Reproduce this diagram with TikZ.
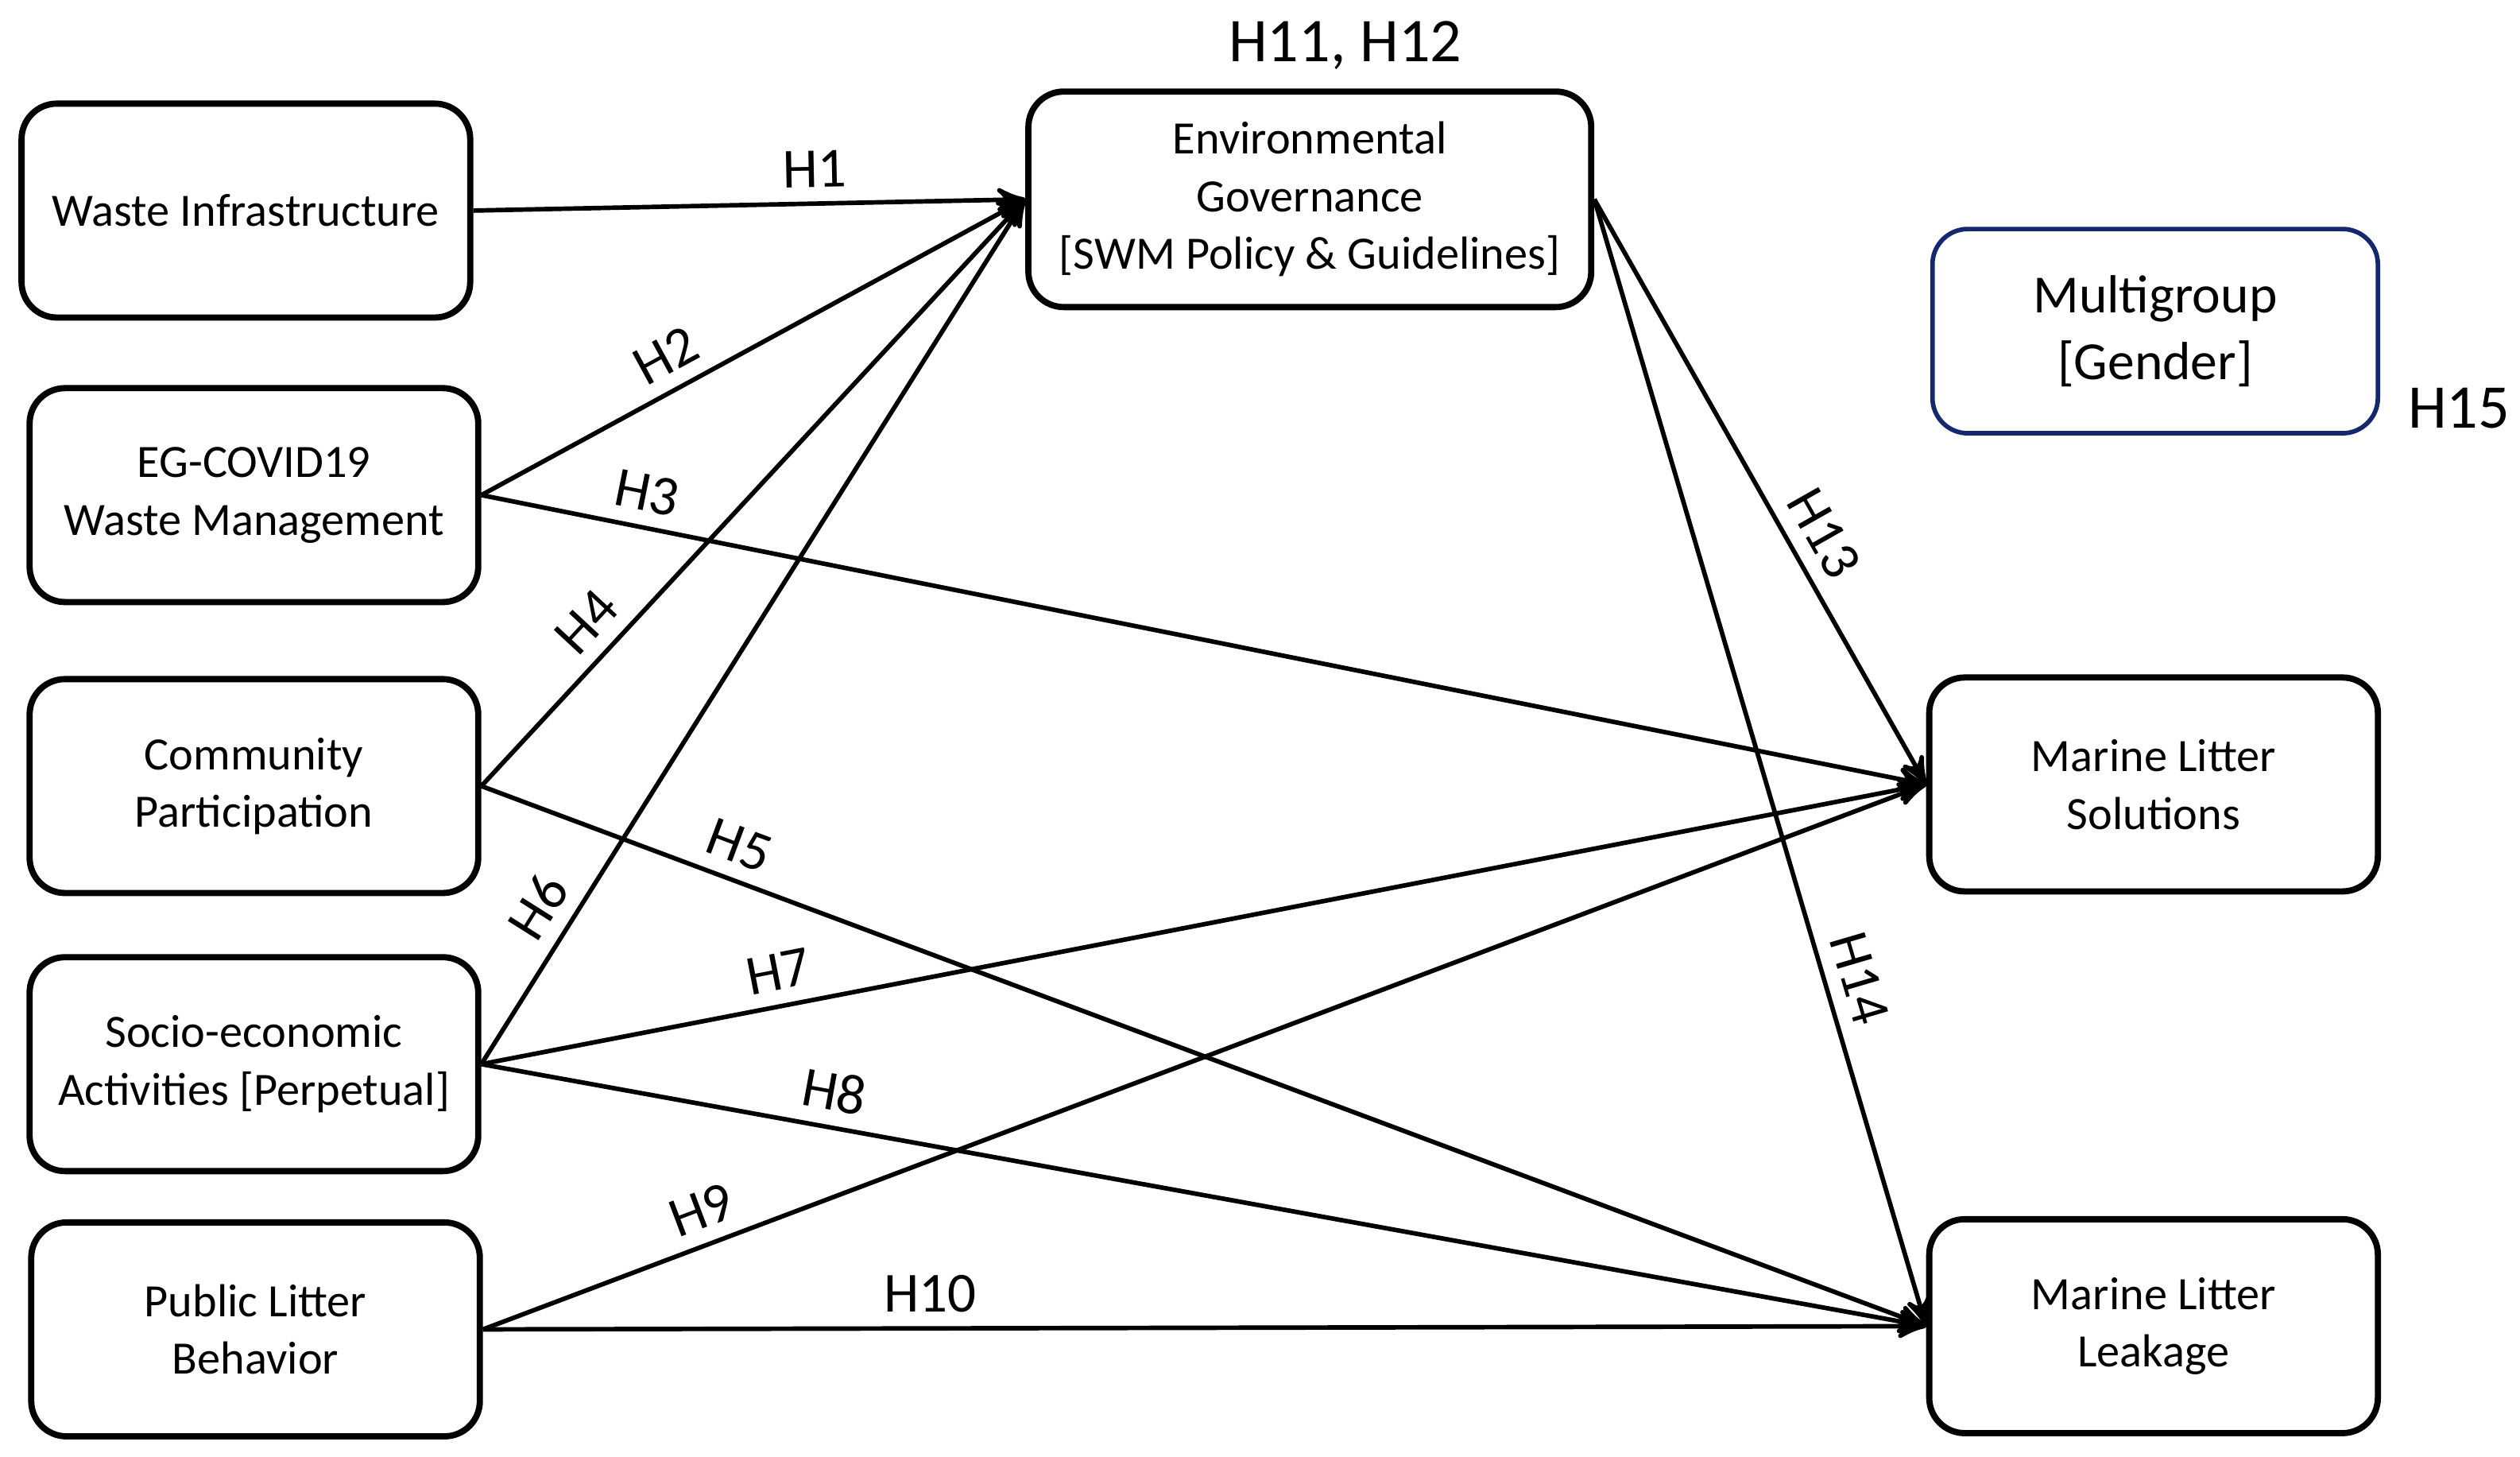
\documentclass[tikz,border=0pt]{standalone}
\usepackage{fontspec}
\setmainfont{Carlito}
\usetikzlibrary{arrows}
\tikzset{
    %Define standard arrow tip
    >=stealth',
    % Define box style
    box/.style={
           draw,
           line width=1.1pt,
           rounded corners=2.2mm,
           minimum width=2.79cm,
           minimum height=1.33cm,
           align=center,
           font=\fontsize{8.2}{10.2}\selectfont,
           },
    % Define arrow style
    pil/.style={
           ->,
           line width=0.8pt,
           },
    hyp/.style={
           sloped,
           above,
           inner sep=2.5pt,
           font=\fontsize{10}{12}\selectfont,
           }
}
\begin{document}
\begin{tikzpicture}[x=0.01cm,y=-0.01cm]
  	\useasboundingbox (0,0) rectangle (1568,906);
  	\node[box] (wi) at (153,131) {Waste Infrastructure};
  	\node[box] (cov) at (158,308) {EG-COVID19\\Waste Management};
  	\node[box] (com) at (158,489) {Community\\Participation};
  	\node[box] (soc) at (158,662) {Socio-economic\\Activities [Perpetual]};
  	\node[box] (pub) at (159,827) {Public Litter\\Behavior};
  	\node[box, minimum width=3.5cm, minimum height=1.34cm] (eg) at (815,124) {Environmental\\Governance\\{}[SWM Policy \& Guidelines]};
  	\node[box, draw={rgb,255:red,20;green,40;blue,110}, line width=0.8pt, minimum width=2.77cm, minimum height=1.27cm, font=\fontsize{9.5}{11.8}\selectfont] (mg) at (1341,206) {Multigroup\\{}[Gender]};
  	\node[box] (mls) at (1340,488) {Marine Litter\\Solutions};
  	\node[box] (mll) at (1340,825) {Marine Litter\\Leakage};
  	\node[font=\fontsize{11}{13}\selectfont] (h11) at (837,28) {H11, H12};
  	\node[font=\fontsize{11}{13}\selectfont] (h15) at (1530,254) {H15};
%  	paths into the governance box
  	\draw [pil] (wi.east) -- node [hyp, pos=0.62] {H1} (eg.west);
  	\draw [pil] (cov.east) -- node [hyp, pos=0.37] {H2} (eg.west);
  	\draw [pil] (com.east) -- node [hyp, pos=0.24] {H4} (eg.west);
  	\draw [pil] (soc.east) -- node [hyp, pos=0.16] {H6} (eg.west);
%  	paths into the outcomes
  	\draw [pil] (cov.east) -- node [hyp, pos=0.11] {H3} (mls.west);
  	\draw [pil] (com.east) -- node [hyp, pos=0.17] {H5} (mll.west);
  	\draw [pil] (soc.east) -- node [hyp, pos=0.21] {H7} (mls.west);
  	\draw [pil] (soc.east) -- node [hyp, pos=0.24] {H8} (mll.west);
  	\draw [pil] (pub.east) -- node [hyp, pos=0.16] {H9} (mls.west);
  	\draw [pil] (pub.east) -- node [hyp, pos=0.31] {H10} (mll.west);
  	\draw [pil] (eg.east) -- node [hyp, pos=0.6] {H13} (mls.west);
  	\draw [pil] (eg.east) -- node [hyp, pos=0.7] {H14} (mll.west);
\end{tikzpicture}
\end{document}
